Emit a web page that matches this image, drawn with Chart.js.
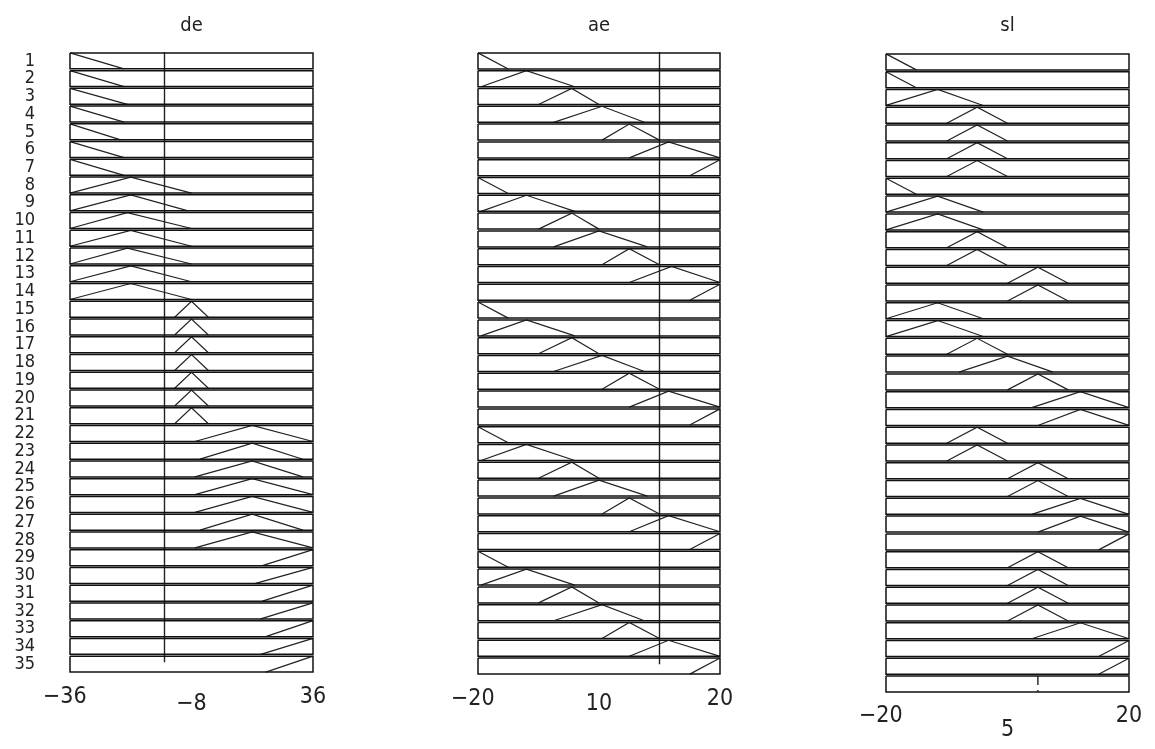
<!DOCTYPE html>
<html lang="en">
<head>
<meta charset="UTF-8">
<title>de / ae / sl membership functions</title>
<script src="https://cdn.jsdelivr.net/npm/chart.js"></script>
<style>
  body { margin: 0; background: #fff; }
  .wrap { position: relative; width: 1155px; height: 749px; overflow: hidden; }
  canvas { position: absolute; top: 0; }
</style>
</head>
<body>
<div class="wrap">
  <canvas id="deChart" width="340" height="749" style="left:0"></canvas>
  <canvas id="aeChart" width="350" height="749" style="left:400px"></canvas>
  <canvas id="slChart" width="350" height="749" style="left:805px"></canvas>
</div>
<script>
// rule numbers shown at the left of the first panel
const rowLabels = ['1','2','3','4','5','6','7','8','9','10','11','12','13','14','15','16','17','18',
  '19','20','21','22','23','24','25','26','27','28','29','30','31','32','33','34','35'];

// each row: [a, b, c] triangle (a==b left shoulder, b==c right shoulder), null = empty row
const deRange = [-36, 36];
const deValue = -8;
const deSets = [
  [-36,-36,-20],[-36,-36,-20],[-36,-36,-19],[-36,-36,-20],[-36,-36,-21],[-36,-36,-20],[-36,-36,-20],
  [-36,-18,0],[-36,-18,-1],[-36,-19,0],[-36,-18,0],[-36,-19,0],[-36,-18,0],[-36,-18,0],
  [-5,0,5],[-5,0,5],[-5,0,5],[-5,0,5],[-5,0,5],[-5,0,5],[-5,0,5],
  [1,18,36],[2.5,18,33],[1,18,33],[1,18,36],[1,18,36],[2.5,18,33],[1,18,36],
  [21,36,36],[19,36,36],[21,36,36],[20.5,36,36],[22,36,36],[20.5,36,36],[22,36,36]
];

const aeRange = [-20, 20];
const aeValue = 10;
const aeSets = [
  [-20,-20,-15],[-19.5,-12,-4],[-10,-4.5,0],[-7.5,0.5,7.5],[0.5,5,10],[5,11.5,20],[15,20,20],
  [-20,-20,-15],[-19.5,-12,-4],[-10,-4.5,0],[-7.5,0,8],[0.5,5,10],[5,12,20],[15,20,20],
  [-20,-20,-15],[-19.5,-12,-4],[-10,-4.5,0],[-7.5,0.5,7.5],[0.5,5,10],[5,11.5,20],[15,20,20],
  [-20,-20,-15],[-19.5,-12,-4],[-10,-4.5,0],[-7.5,0,8],[0.5,5,10],[5,11.5,20],[15,20,20],
  [-20,-20,-15],[-19.5,-12,-4],[-10,-4.5,0],[-7.5,0.5,7.5],[0.5,5,10],[5,11.5,20],[15,20,20]
];

const slRange = [-20, 20];
const slValue = 5;
const slSets = [
  [-20,-20,-15],[-20,-20,-15],[-20,-11.5,-4],[-10,-5,0],[-10,-5,0],[-10,-5,0],[-10,-5,0],
  [-20,-20,-15],[-20,-11.5,-4],[-20,-11.5,-4],[-10,-5,0],[-10,-5,0],[0,5,10],[0,5,10],
  [-20,-11.5,-4],[-20,-11.5,-4],[-10,-5,0],[-8,0,7.5],[0,5,10],[4,12,20],[5,12,20],
  [-10,-5,0],[-10,-5,0],[0,5,10],[0,5,10],[4,12,20],[5,12,20],[15,20,20],
  [0,5,10],[0,5,10],[0,5,10],[0,5,10],[4,12,20],[15,20,20],[15,20,20],
  null
];

const FONT = "'DejaVu Sans Condensed', 'Liberation Sans Narrow', 'DejaVu Sans', sans-serif";
const INK = '#222';

function fmt(v) {
  return v < 0 ? '\u2212' + Math.abs(v) : String(v);
}

function mfPoints(set, row) {
  const [a, b, c] = set;
  const y = mu => row + 0.95 - 0.9 * mu;
  return [
    { x: a, y: y(a === b ? 1 : 0) },
    { x: b, y: y(1) },
    { x: c, y: y(c === b ? 1 : 0) }
  ];
}

function boxPoints(range, row) {
  const [lo, hi] = range;
  return [
    { x: lo, y: row + 0.05 }, { x: hi, y: row + 0.05 },
    { x: hi, y: row + 0.95 }, { x: lo, y: row + 0.95 }, { x: lo, y: row + 0.05 }
  ];
}

function line(data, color, width, dash) {
  return {
    data, showLine: true, pointRadius: 0, borderColor: color, borderWidth: width,
    borderDash: dash || [], fill: false, tension: 0, clip: false
  };
}

function drawPanel(p) {
  const rows = p.sets.length;
  const datasets = [];
  p.sets.forEach((set, i) => {
    datasets.push(line(boxPoints(p.range, i), '#111', 1.5));
    if (set) datasets.push(line(mfPoints(set, i), '#222', 1.2));
  });
  datasets.push(line([{ x: p.value, y: p.marker[0] }, { x: p.value, y: p.marker[1] }], INK, 1.4, p.markerDash));

  new Chart(document.getElementById(p.id), {
    type: 'scatter',
    data: { datasets },
    options: {
      responsive: false,
      animation: false,
      devicePixelRatio: 1,
      layout: { padding: { left: 0, right: p.padRight, top: 0, bottom: 0 } },
      plugins: {
        legend: { display: false },
        tooltip: { enabled: false },
        title: {
          display: true, fullSize: false, text: p.title, color: INK,
          font: { family: FONT, size: 20, weight: 'normal' },
          padding: { top: 14, bottom: p.titleGap }
        }
      },
      scales: {
        x: {
          type: 'linear', min: p.range[0], max: p.range[1],
          grid: { display: false }, border: { display: false },
          afterBuildTicks: s => { s.ticks = [{ value: p.range[0] }, { value: p.range[1] }]; },
          afterFit: s => { s.height = p.axisHeight; },
          ticks: {
            autoSkip: false, maxRotation: 0, padding: p.tickPad, color: INK,
            font: { family: FONT, size: 23 },
            callback: v => v < 0 ? fmt(v) + '\u2002' : fmt(v)
          },
          title: {
            display: true, text: fmt(p.value), color: INK,
            font: { family: FONT, size: 23 },
            padding: { top: 0, bottom: p.valuePad }
          }
        },
        y: {
          type: 'linear', min: 0, max: rows, reverse: true,
          grid: { display: false }, border: { display: false },
          afterBuildTicks: s => { s.ticks = rowLabels.map((_, i) => ({ value: i + 0.5 })); },
          afterFit: s => { s.width = p.yWidth; },
          ticks: {
            display: p.showRows, autoSkip: false, padding: 27, color: INK,
            font: { family: FONT, size: 18 },
            callback: v => rowLabels[Math.round(v - 0.5)]
          }
        }
      }
    }
  });
}

drawPanel({ id: 'deChart', title: 'de', range: deRange, value: deValue, sets: deSets,
  marker: [0, 34.4], yWidth: 70, padRight: 27, titleGap: 14, axisHeight: 76,
  tickPad: 2, valuePad: 31, showRows: true });
drawPanel({ id: 'aeChart', title: 'ae', range: aeRange, value: aeValue, sets: aeSets,
  marker: [0, 34.4], yWidth: 78, padRight: 30, titleGap: 14, axisHeight: 74,
  tickPad: 2, valuePad: 31, showRows: false });
drawPanel({ id: 'slChart', title: 'sl', range: slRange, value: slValue, sets: slSets,
  marker: [35.05, 35.95], markerDash: [9, 5], yWidth: 81, padRight: 26, titleGap: 15, axisHeight: 56,
  tickPad: 1, valuePad: 5, showRows: false });
</script>
</body>
</html>
